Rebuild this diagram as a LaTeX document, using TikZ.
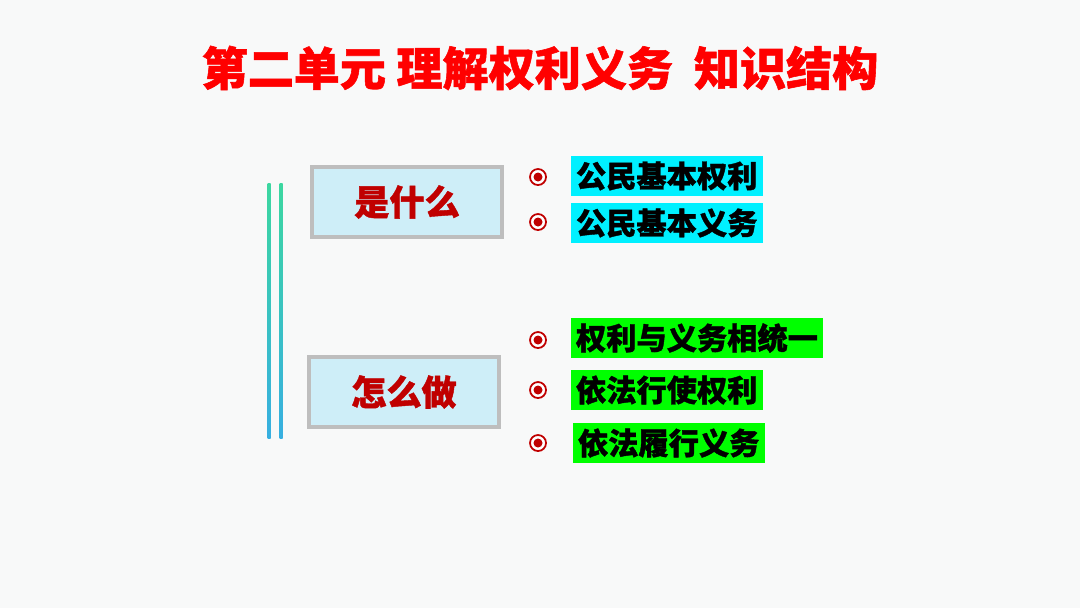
\documentclass[tikz,border=0pt]{standalone}
\usepackage{fontspec}
\setmainfont{Noto Sans CJK SC}[BoldFeatures={FakeBold=1.2}]
\usepackage{xcolor}
\definecolor{slidebg}{RGB}{248, 249, 249}
\definecolor{titlered}{RGB}{255, 0, 0}
\definecolor{keyred}{RGB}{192, 0, 0}
\definecolor{boxcyan}{RGB}{206, 238, 248}
\definecolor{boxedge}{RGB}{190, 190, 190}
\definecolor{itemcyan}{RGB}{0, 240, 255}
\definecolor{itemgreen}{RGB}{0, 255, 0}
\definecolor{linegreen}{RGB}{60, 215, 160}
\definecolor{lineblue}{RGB}{55, 175, 225}
\usetikzlibrary{shadows}
\tikzset{
  % --- TITLE ---
  slide-title/.style={
    text=titlered,
    font=\fontsize{13.1pt}{15pt}\selectfont\bfseries
  },
  % --- QUESTION BOXES ---
  question/.style={
    fill=boxcyan,
    draw=boxedge,
    line width=1pt,
    text=keyred,
    font=\fontsize{10pt}{12pt}\selectfont\bfseries,
    minimum width=1.9cm,
    minimum height=0.7cm,
    inner sep=0pt,
    drop shadow={opacity=0.15, shadow xshift=0.3pt, shadow yshift=-0.3pt}
  },
  % --- ITEMS ---
  item/.style={
    text=black,
    font=\fontsize{8.6pt}{10pt}\selectfont\bfseries,
    inner xsep=1.5pt,
    inner ysep=0pt,
    minimum height=0.4cm,
    anchor=west
  },
  item-cyan/.style={item, fill=itemcyan},
  item-green/.style={item, fill=itemgreen},
  % --- BULLETS ---
  bullet/.style={
    circle,
    draw=keyred,
    fill=white,
    line width=0.5pt,
    minimum size=0.16cm,
    inner sep=0pt,
    path picture={\fill[keyred] (path picture bounding box.center) circle (0.045cm);}
  },
  % --- BRACKET LINES ---
  bar/.style={
    top color=linegreen,
    bottom color=lineblue,
    draw=none
  },
}

\begin{document}
\begin{tikzpicture}[x=0.01cm, y=-0.01cm]

  % --- background
  \fill[slidebg] (0, 0) rectangle (1080, 608);
  \useasboundingbox (0, 0) rectangle (1080, 608);

  % --- title
  \node[slide-title] (title) at (540, 68) {第二单元 理解权利义务\ \ 知识结构};

  % --- double bar on the left
  \shade[bar] (267.5, 183) rectangle (270.5, 438);
  \shade[bar] (279.5, 183) rectangle (282.5, 438);

  % --- question boxes
  \node[question] (what) at (407, 202) {是什么};
  \node[question] (how)  at (404, 392) {怎么做};

  % --- what: bullets + items
  \node[bullet] (b1) at (538, 177) {};
  \node[item-cyan] (rights) at (570, 176) {公民基本权利};
  \node[bullet] (b2) at (538, 222) {};
  \node[item-cyan] (duties) at (570, 223) {公民基本义务};

  % --- how: bullets + items
  \node[bullet] (b3) at (538, 340) {};
  \node[item-green] (unity)   at (570, 338) {权利与义务相统一};
  \node[bullet] (b4) at (538, 390) {};
  \node[item-green] (exercise) at (570, 390) {依法行使权利};
  \node[bullet] (b5) at (538, 443) {};
  \node[item-green] (perform)  at (572, 443) {依法履行义务};

\end{tikzpicture}
\end{document}
